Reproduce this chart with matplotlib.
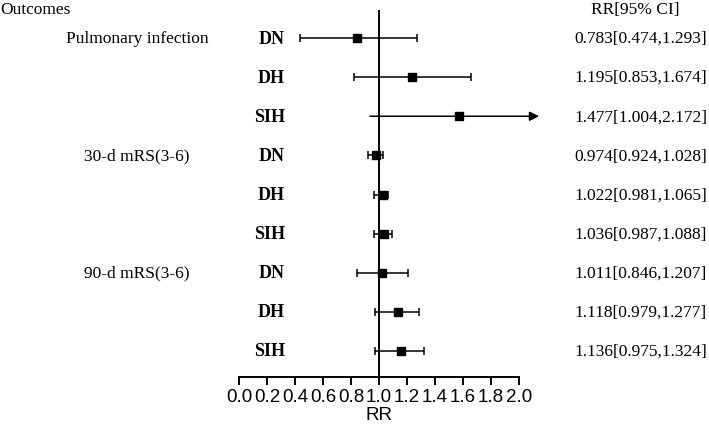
import matplotlib
matplotlib.use("Agg")
import matplotlib.pyplot as plt

# rows, top to bottom
groups = ["Pulmonary infection", "30-d mRS(3-6)", "90-d mRS(3-6)"]
subgroups = ["DN", "DH", "SIH"] * 3
# positions of the marks as drawn in the picture
rr_point = [0.843, 1.236, 1.571, 0.979, 1.030, 1.036, 1.021, 1.136, 1.157]
ci_low = [0.436, 0.820, 0.936, 0.921, 0.965, 0.965, 0.843, 0.970, 0.970]
ci_high = [1.270, 1.657, 2.143, 1.029, 1.064, 1.093, 1.207, 1.286, 1.321]
# text column
rr_text = ["0.783[0.474,1.293]", "1.195[0.853,1.674]", "1.477[1.004,2.172]",
           "0.974[0.924,1.028]", "1.022[0.981,1.065]", "1.036[0.987,1.088]",
           "1.011[0.846,1.207]", "1.118[0.979,1.277]", "1.136[0.975,1.324]"]
xticks = [0.0, 0.2, 0.4, 0.6, 0.8, 1.0, 1.2, 1.4, 1.6, 1.8, 2.0]

W, H = 709, 427
fig = plt.figure(figsize=(W / 100, H / 100), dpi=100)

# axes: x 0..2 spans pixels 239..519, bottom spine at y=378
ax = fig.add_axes([239 / W, (H - 378) / H, 280 / W, 378 / H])
row_h = 39.125
ax.set_ylim((378 - 39) / row_h, -39 / row_h)
ax.set_xlim(0, 2.0)

serif = "Liberation Serif"
fs = 12.5
lw = 1.1

for i in range(len(rr_point)):
    if ci_high[i] > 2.0:
        ax.annotate("", xy=(ci_high[i], i), xytext=(ci_low[i], i),
                    arrowprops=dict(arrowstyle="-|>", lw=lw, color="black",
                                    mutation_scale=14, shrinkA=0, shrinkB=0),
                    annotation_clip=False)
        ax.plot(rr_point[i], i, marker="s", ms=6, color="black", clip_on=False)
    else:
        ax.errorbar(rr_point[i], i,
                    xerr=[[rr_point[i] - ci_low[i]], [ci_high[i] - rr_point[i]]],
                    fmt="s", ms=6, color="black", ecolor="black",
                    elinewidth=lw, capsize=3, capthick=lw, clip_on=False)

ax.axvline(1.0, ymin=0, ymax=(378 - 12) / 378, color="black", lw=1.4)

for s in ["top", "right", "left"]:
    ax.spines[s].set_visible(False)
ax.spines["bottom"].set_linewidth(1.4)
ax.set_yticks([])
ax.set_xticks(xticks)
ax.set_xticklabels([f"{t:.1f}" for t in xticks])
ax.tick_params(axis="x", direction="out", length=6, width=1.4, pad=2,
               labelsize=13.5)
for lab in ax.get_xticklabels():
    lab.set_family("Liberation Sans")
ax.set_xlabel("RR", fontsize=13.5, family="Liberation Sans", labelpad=1)

# left and right text columns (figure pixel coords from top)
def px(x, y):
    return x / W, 1 - y / H

fig.text(*px(0, 10), "Outcomes", family=serif, fontsize=fs, va="center", ha="left")
fig.text(*px(635, 10), "RR[95% CI]", family=serif, fontsize=fs, va="center", ha="center")
for g, name in enumerate(groups):
    y = 39 + row_h * 3 * g
    fig.text(*px(137, y), name, family=serif, fontsize=fs, va="center", ha="center")
for i, name in enumerate(subgroups):
    y = 39 + row_h * i
    fig.text(*px(285, y), name, family=serif, fontsize=13, va="center", ha="right",
             weight="bold")
    fig.text(*px(641, y), rr_text[i], family=serif, fontsize=fs, va="center",
             ha="center")

fig.savefig("out.png", dpi=100)
